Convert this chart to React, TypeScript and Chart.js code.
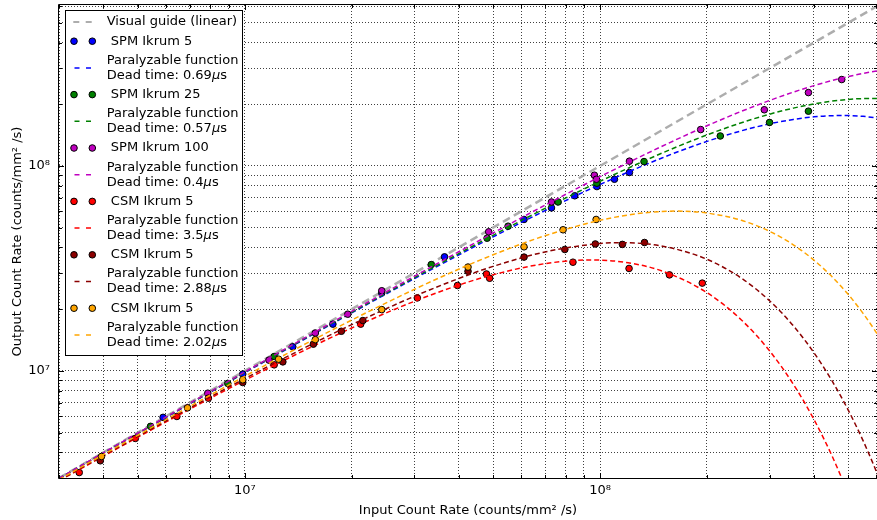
import React, { useEffect, useRef } from 'react';
import { Chart, registerables } from 'chart.js';

Chart.register(...registerables);

// ---------- tick values / labels ----------
const X_TICKS = [3e6, 4e6, 5e6, 6e6, 7e6, 8e6, 9e6, 1e7, 2e7, 3e7, 4e7, 5e7, 6e7, 7e7, 8e7, 9e7, 1e8, 2e8, 3e8, 4e8, 5e8, 6e8];
const Y_TICKS = [3e6, 4e6, 5e6, 6e6, 7e6, 8e6, 9e6, 1e7, 2e7, 3e7, 4e7, 5e7, 6e7, 7e7, 8e7, 9e7, 1e8, 2e8, 3e8, 4e8, 5e8, 6e8];
const DECADES = [1e7, 1e8];
const DECADE_LABELS = ['10⁷', '10⁸'];
const X_TITLE = 'Input Count Rate (counts/mm² /s)';
const Y_TITLE = 'Output Count Rate (counts/mm² /s)';

// ---------- linear guide ----------
const GUIDE_X = [3e6, 6.2e8];
const GUIDE_Y = [3e6, 6.2e8];

// ---------- measured points ----------
const SPM5_X = [5.89e6, 9.87e6, 1.365e7, 1.77e7, 2.43e7, 3.65e7, 6.11e7, 7.3e7, 8.49e7, 9.8e7, 1.098e8, 1.21e8];
const SPM5_Y = [5.93e6, 9.64e6, 1.31e7, 1.69e7, 2.40e7, 3.6e7, 5.48e7, 6.24e7, 7.15e7, 7.93e7, 8.61e7, 9.29e7];

const SPM25_X = [5.43e6, 8.96e6, 1.21e7, 3.35e7, 4.81e7, 5.51e7, 7.62e7, 9.8e7, 1.33e8, 2.18e8, 3.0e8, 3.86e8];
const SPM25_Y = [5.36e6, 8.68e6, 1.175e7, 3.3e7, 4.44e7, 5.08e7, 6.67e7, 8.24e7, 1.05e8, 1.40e8, 1.63e8, 1.85e8];

const SPM100_X = [7.87e6, 1.17e7, 1.58e7, 1.95e7, 2.43e7, 4.86e7, 7.3e7, 9.64e7, 9.77e7, 1.21e8, 1.92e8, 2.9e8, 3.86e8, 4.79e8];
const SPM100_Y = [7.78e6, 1.128e7, 1.53e7, 1.89e7, 2.46e7, 4.77e7, 6.67e7, 9.01e7, 8.61e7, 1.055e8, 1.505e8, 1.88e8, 2.28e8, 2.64e8];

const CSM_A_X = [3.42e6, 4.92e6, 6.44e6, 7.9e6, 1.21e7, 2.12e7, 3.06e7, 3.97e7, 4.79e7, 4.89e7, 8.39e7, 1.207e8, 1.568e8, 1.94e8];
const CSM_A_Y = [3.19e6, 4.68e6, 5.99e6, 7.36e6, 1.07e7, 1.69e7, 2.27e7, 2.61e7, 2.97e7, 2.83e7, 3.39e7, 3.16e7, 2.94e7, 2.68e7];

const CSM_B_X = [3.92e6, 9.87e6, 1.28e7, 1.56e7, 1.87e7, 2.15e7, 4.25e7, 6.11e7, 7.96e7, 9.7e7, 1.156e8, 1.334e8];
const CSM_B_Y = [3.64e6, 8.77e6, 1.106e7, 1.35e7, 1.56e7, 1.76e7, 3.06e7, 3.59e7, 3.91e7, 4.16e7, 4.14e7, 4.23e7];

const CSM_C_X = [3.95e6, 6.9e6, 9.87e6, 1.245e7, 1.58e7, 2.43e7, 4.25e7, 6.11e7, 7.87e7, 9.75e7];
const CSM_C_Y = [3.82e6, 6.6e6, 9.04e6, 1.14e7, 1.42e7, 1.99e7, 3.21e7, 4.03e7, 4.88e7, 5.48e7];

// ---------- fitted curves ----------
const FIT_SPM_X = [3e6, 5e6, 1e7, 2e7, 3e7, 5e7, 7e7, 1e8, 1.5e8, 2e8, 2.5e8, 3e8, 3.5e8, 4e8, 4.5e8, 5e8, 5.5e8, 6e8, 6.1e8];
const FIT_SPM5_Y = [2.981e6, 4.948e6, 9.793e6, 1.918e7, 2.818e7, 4.505e7, 6.049e7, 8.116e7, 1.0968e8, 1.3175e8, 1.4838e8, 1.6041e8, 1.686e8, 1.7358e8, 1.7593e8, 1.7611e8, 1.7452e8, 1.7153e8, 1.7079e8];
const FIT_SPM25_Y = [2.9845e6, 4.957e6, 9.829e6, 1.9322e7, 2.8488e7, 4.587e7, 6.204e7, 8.416e7, 1.1582e8, 1.4167e8, 1.6247e8, 1.7886e8, 1.9143e8, 2.0071e8, 2.0715e8, 2.1116e8, 2.1309e8, 2.1326e8, 2.1312e8];
const FIT_SPM100_Y = [2.989e6, 4.97e6, 9.88e6, 1.9522e7, 2.8931e7, 4.706e7, 6.432e7, 8.86e7, 1.251e8, 1.5701e8, 1.8474e8, 2.0867e8, 2.2916e8, 2.4652e8, 2.6105e8, 2.7303e8, 2.827e8, 2.903e8, 2.9159e8];

const FIT_A_X = [3e6, 5e6, 7e6, 1e7, 1.5e7, 2e7, 3e7, 4e7, 5e7, 7e7, 9.45e7, 1.2e8, 1.5e8, 2e8, 2.5e8, 3e8, 3.5e8, 4e8, 4.5e8, 5e8];
const FIT_A_Y = [2.906e6, 4.742e6, 6.5e6, 8.995e6, 1.2797e7, 1.6183e7, 2.1836e7, 2.6189e7, 2.9449e7, 3.3361e7, 3.4764e7, 3.3684e7, 3.0647e7, 2.4062e7, 1.7718e7, 1.2522e7, 8.607e6, 5.793e6, 3.838e6, 2.511e6];

const FIT_B_X = [3e6, 5e6, 7e6, 1e7, 1.5e7, 2e7, 3e7, 4e7, 5e7, 7e7, 1e8, 1.15e8, 1.5e8, 2e8, 2.5e8, 3e8, 3.5e8, 4e8, 4.5e8, 5e8, 5.5e8, 6e8, 6.1e8];
const FIT_B_Y = [2.9226e6, 4.787e6, 6.586e6, 9.166e6, 1.3163e7, 1.6802e7, 2.31e7, 2.823e7, 3.2344e7, 3.8039e7, 4.1845e7, 4.2225e7, 4.0602e7, 3.502e7, 2.832e7, 2.1984e7, 1.659e7, 1.2264e7, 8.926e6, 6.416e6, 4.566e6, 3.221e6, 3.001e6];

const FIT_C_X = [3e6, 5e6, 7e6, 1e7, 1.5e7, 2e7, 3e7, 4e7, 5e7, 7e7, 1e8, 1.3e8, 1.64e8, 2e8, 2.5e8, 3e8, 3.5e8, 4e8, 4.5e8, 5e8, 5.5e8, 6e8, 6.1e8];
const FIT_C_Y = [2.9455e6, 4.8495e6, 6.707e6, 9.407e6, 1.3686e7, 1.7699e7, 2.4975e7, 3.1327e7, 3.6836e7, 4.5637e7, 5.4279e7, 5.8743e7, 6.02e7, 5.8922e7, 5.4263e7, 4.7973e7, 4.1227e7, 3.4708e7, 2.8769e7, 2.3555e7, 1.9085e7, 1.5342e7, 1.4677e7];

// ---------- labels / colours ----------
const LABELS = [
  'Visual guide (linear)',
  ' SPM Ikrum 5',
  'Paralyzable function\nDead time: 0.69μs',
  ' SPM Ikrum 25',
  'Paralyzable function\nDead time: 0.57μs',
  ' SPM Ikrum 100',
  'Paralyzable function\nDead time: 0.4μs',
  ' CSM Ikrum 5',
  'Paralyzable function\nDead time: 3.5μs',
  ' CSM Ikrum 5',
  'Paralyzable function\nDead time: 2.88μs',
  ' CSM Ikrum 5',
  'Paralyzable function\nDead time: 2.02μs',
];
const COLORS = ['#adadad', '#0000ff', '#0000ff', '#008000', '#008000', '#bf00bf', '#bf00bf', '#ff0000', '#ff0000', '#8b0000', '#8b0000', '#ffa500', '#ffa500'];

const FONT = 'DejaVu Sans';
const FS = 13;

const zip = (xs: number[], ys: number[]) => xs.map((x, i) => ({ x, y: ys[i] }));

function pointsDs(i: number, xs: number[], ys: number[]) {
  return {
    label: LABELS[i],
    data: zip(xs, ys),
    showLine: false,
    borderColor: '#000',
    backgroundColor: COLORS[i],
    pointBackgroundColor: COLORS[i],
    pointBorderColor: '#000',
    pointBorderWidth: 1,
    pointRadius: 3.3,
    pointHoverRadius: 3.3,
    order: 20 - i,
  };
}

function lineDs(i: number, xs: number[], ys: number[]) {
  return {
    label: LABELS[i],
    data: zip(xs, ys),
    showLine: true,
    borderColor: COLORS[i],
    backgroundColor: COLORS[i],
    borderWidth: 1.5,
    borderDash: [5, 3],
    pointRadius: 0,
    pointHoverRadius: 0,
    fill: false,
    cubicInterpolationMode: 'monotone',
    order: 20 - i,
  };
}

const frameTicksPlugin = {
  id: 'frameTicks',
  afterDatasetsDraw(chart: any) {
    const { ctx, chartArea } = chart;
    const { left, right, top, bottom } = chartArea;
    const xs = chart.scales.x;
    const ys = chart.scales.y;
    ctx.save();
    ctx.strokeStyle = '#000';
    ctx.lineWidth = 1;
    ctx.setLineDash([]);
    ctx.beginPath();
    xs.ticks.forEach((t: any) => {
      const p = Math.round(xs.getPixelForValue(t.value)) + 0.5;
      const len = DECADES.includes(t.value) ? 5 : 3;
      ctx.moveTo(p, bottom); ctx.lineTo(p, bottom - len);
      ctx.moveTo(p, top); ctx.lineTo(p, top + len);
    });
    ys.ticks.forEach((t: any) => {
      const p = Math.round(ys.getPixelForValue(t.value)) + 0.5;
      const len = DECADES.includes(t.value) ? 5 : 3;
      ctx.moveTo(left, p); ctx.lineTo(left + len, p);
      ctx.moveTo(right, p); ctx.lineTo(right - len, p);
    });
    ctx.stroke();
    ctx.beginPath();
    ctx.rect(Math.round(left) - 0.5, Math.round(top) - 0.5, Math.round(right - left) + 1, Math.round(bottom - top) + 1);
    ctx.stroke();
    ctx.restore();
  },
};

function drawRich(ctx: CanvasRenderingContext2D, text: string, x: number, y: number) {
  const parts = text.split('μ');
  let cx = x;
  parts.forEach((part, k) => {
    ctx.font = `${FS}px "${FONT}"`;
    ctx.fillText(part, cx, y);
    cx += ctx.measureText(part).width;
    if (k < parts.length - 1) {
      ctx.font = `italic ${FS}px "${FONT}"`;
      ctx.fillText('μ', cx, y);
      cx += ctx.measureText('μ').width;
    }
  });
}

const legendPlugin = {
  id: 'mplLegend',
  afterDraw(chart: any) {
    const { ctx, chartArea } = chart;
    const bx = chartArea.left + 6;
    const by = chartArea.top + 5;
    const bw = 177;
    const bh = 345;
    ctx.save();
    ctx.fillStyle = '#fff';
    ctx.fillRect(bx, by, bw, bh);
    ctx.strokeStyle = '#000';
    ctx.lineWidth = 1;
    ctx.strokeRect(bx + 0.5, by + 0.5, bw, bh);
    ctx.textBaseline = 'middle';
    ctx.textAlign = 'left';
    let y = by + 12 - 19.2;
    chart.data.datasets.forEach((ds: any, i: number) => {
      const lines = String(ds.label).split('\n');
      y += 19.2;
      const first = y;
      y += 15 * (lines.length - 1);
      const hy = (first + y) / 2;
      if (ds.showLine === false) {
        [bx + 9, bx + 27.3].forEach((px) => {
          ctx.beginPath();
          ctx.arc(px, hy, 3.3, 0, Math.PI * 2);
          ctx.fillStyle = ds.pointBackgroundColor;
          ctx.fill();
          ctx.strokeStyle = '#000';
          ctx.lineWidth = 1;
          ctx.setLineDash([]);
          ctx.stroke();
        });
      } else {
        ctx.beginPath();
        ctx.strokeStyle = ds.borderColor;
        if (i === 0) {
          ctx.lineWidth = 2;
          ctx.setLineDash([6, 6.4]);
          ctx.moveTo(bx + 8.3, hy); ctx.lineTo(bx + 26.7, hy);
        } else {
          ctx.lineWidth = 1.5;
          ctx.setLineDash([5, 6.5]);
          ctx.moveTo(bx + 9.5, hy); ctx.lineTo(bx + 26.5, hy);
        }
        ctx.stroke();
        ctx.setLineDash([]);
      }
      ctx.fillStyle = '#000';
      lines.forEach((ln, k) => drawRich(ctx, ln, bx + 41.7, first + 15 * k));
    });
    ctx.restore();
  },
};

export default function App() {
  const ref = useRef<HTMLCanvasElement | null>(null);

  useEffect(() => {
    if (!ref.current) return;
    const tickFont = { family: FONT, size: FS };
    const labelFor = (v: number) => {
      const k = DECADES.indexOf(v);
      return k >= 0 ? DECADE_LABELS[k] : '';
    };
    const datasets: any[] = [
      {
        label: LABELS[0],
        data: zip(GUIDE_X, GUIDE_Y),
        showLine: true,
        borderColor: COLORS[0],
        backgroundColor: COLORS[0],
        borderWidth: 2.5,
        borderDash: [8, 4.5],
        pointRadius: 0,
        pointHoverRadius: 0,
        fill: false,
        order: 20,
      },
      pointsDs(1, SPM5_X, SPM5_Y),
      lineDs(2, FIT_SPM_X, FIT_SPM5_Y),
      pointsDs(3, SPM25_X, SPM25_Y),
      lineDs(4, FIT_SPM_X, FIT_SPM25_Y),
      pointsDs(5, SPM100_X, SPM100_Y),
      lineDs(6, FIT_SPM_X, FIT_SPM100_Y),
      pointsDs(7, CSM_A_X, CSM_A_Y),
      lineDs(8, FIT_A_X, FIT_A_Y),
      pointsDs(9, CSM_B_X, CSM_B_Y),
      lineDs(10, FIT_B_X, FIT_B_Y),
      pointsDs(11, CSM_C_X, CSM_C_Y),
      lineDs(12, FIT_C_X, FIT_C_Y),
    ];
    const chart = new Chart(ref.current, {
      type: 'line',
      data: { datasets },
      options: {
        responsive: false,
        devicePixelRatio: 1,
        animation: false,
        events: [],
        layout: { autoPadding: false, padding: { top: 5, right: 0, left: 0, bottom: 0 } },
        plugins: { legend: { display: false }, tooltip: { enabled: false } },
        scales: {
          x: {
            type: 'logarithmic',
            min: 3e6,
            max: 6.02e8,
            afterBuildTicks: (s: any) => { s.ticks = X_TICKS.map((v) => ({ value: v })); },
            afterFit: (s: any) => { s.height = 42; s.paddingLeft = 0; s.paddingRight = 0; },
            ticks: { autoSkip: false, maxRotation: 0, minRotation: 0, padding: 5, color: '#000', font: tickFont, callback: (v: any) => labelFor(Number(v)) },
            grid: { color: 'rgba(0,0,0,0.75)', lineWidth: 1, drawTicks: false },
            border: { display: false, dash: [1, 2] },
            title: { display: true, text: X_TITLE, color: '#000', font: tickFont, padding: { top: 0, bottom: 2 } },
          },
          y: {
            type: 'logarithmic',
            min: 3e6,
            max: 6.1e8,
            afterBuildTicks: (s: any) => { s.ticks = Y_TICKS.map((v) => ({ value: v })); },
            afterFit: (s: any) => { s.width = 59; s.paddingTop = 0; s.paddingBottom = 0; },
            ticks: { autoSkip: false, padding: 9, color: '#000', font: tickFont, callback: (v: any) => labelFor(Number(v)) },
            grid: { color: 'rgba(0,0,0,0.75)', lineWidth: 1, drawTicks: false },
            border: { display: false, dash: [1, 2] },
            title: { display: true, text: Y_TITLE, color: '#000', font: tickFont, padding: { top: 10, bottom: 0 } },
          },
        },
      } as any,
      plugins: [frameTicksPlugin, legendPlugin],
    });
    return () => chart.destroy();
  }, []);

  return (
    <div style={{ position: 'absolute', left: 0, top: 0, width: 877, height: 520, background: '#fff' }}>
      <canvas ref={ref} width={877} height={520} style={{ display: 'block', width: 877, height: 520 }} />
    </div>
  );
}
